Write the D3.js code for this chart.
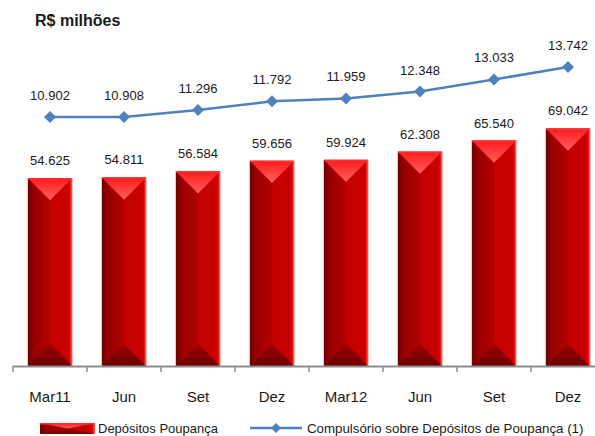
<!DOCTYPE html>
<html><head><meta charset="utf-8">
<script src="https://cdn.jsdelivr.net/npm/d3@7"></script>
<style>body{margin:0;background:#fff}svg{display:block;font-family:"Liberation Sans",Arial,sans-serif}</style>
</head><body><svg id="c" width="595" height="436"></svg>
<script>
const categories = ["Mar11","Jun","Set","Dez","Mar12","Jun","Set","Dez"];
const depositos = [54.625,54.811,56.584,59.656,59.924,62.308,65.540,69.042];
const compulsorio = [10.902,10.908,11.296,11.792,11.959,12.348,13.033,13.742];
const seriesNames = ["Depósitos Poupança","Compulsório sobre Depósitos de Poupança (1)"];
const fmt = v => v.toFixed(3);

const svg = d3.select("#c");
const x = d3.scaleBand().domain(d3.range(categories.length)).range([13, 605]).paddingInner(0.4).paddingOuter(0.2);
const yBar = d3.scaleLinear().domain([0, 70]).range([366, 125.2]);
const yLine = d3.scaleLinear().domain([10.902, 13.742]).range([117, 67]);

const defs = svg.append("defs");
const g1 = defs.append("linearGradient").attr("id","barG").attr("x1","0").attr("x2","1").attr("y1","0").attr("y2","0");
[[0,"#6e0000"],[0.15,"#9a0000"],[0.48,"#b00000"],[0.52,"#c40000"],[0.9,"#c80000"],[0.95,"#e00000"],[1,"#ff3a3a"]].forEach(s=>g1.append("stop").attr("offset",s[0]).attr("stop-color",s[1]));
const gTop = defs.append("linearGradient").attr("id","topG").attr("x1","0").attr("x2","0").attr("y1","0").attr("y2","1");
[[0,"#ff1a1a"],[1,"#ff6060"]].forEach(s=>gTop.append("stop").attr("offset",s[0]).attr("stop-color",s[1]));
const gBot = defs.append("linearGradient").attr("id","botG").attr("x1","0").attr("x2","0").attr("y1","0").attr("y2","1");
[[0,"#a00000"],[1,"#6a0000"]].forEach(s=>gBot.append("stop").attr("offset",s[0]).attr("stop-color",s[1]));

svg.append("text").attr("x",35).attr("y",26).attr("font-size",16).attr("font-weight","bold").attr("fill","#1a1a1a").text("R$ milhões");

function drawBar(sel, x0, y0, w, h){
  sel.append("rect").attr("x",x0).attr("y",y0).attr("width",w).attr("height",h).attr("fill","url(#barG)");
  const a = Math.min(w/2, h/2);
  sel.append("path").attr("d",`M${x0},${y0}L${x0+w},${y0}L${x0+w/2},${y0+a}Z`).attr("fill","url(#topG)");
  sel.append("path").attr("d",`M${x0},${y0+h}L${x0+w},${y0+h}L${x0+w/2},${y0+h-a}Z`).attr("fill","url(#botG)");
  sel.append("rect").attr("x",x0).attr("y",y0).attr("width",w).attr("height",1.5).attr("fill","#ff3030");
  sel.append("rect").attr("x",x0+w-1.5).attr("y",y0).attr("width",1.5).attr("height",h).attr("fill","#ff5050").attr("opacity",0.8);
}

depositos.forEach((v,i)=>{
  const g = svg.append("g");
  drawBar(g, x(i), yBar(v), x.bandwidth(), yBar(0)-yBar(v));
  svg.append("text").attr("x",x(i)+x.bandwidth()/2).attr("y",yBar(v)-13).attr("text-anchor","middle").attr("font-size",13).attr("fill","#1a1a1a").text(fmt(v));
});

// axis
const step = x.step();
svg.append("line").attr("x1",13).attr("x2",595).attr("y1",366.5).attr("y2",366.5).attr("stroke","#8c8c8c").attr("stroke-width",2);
categories.forEach((c,i)=>{
  const tx = x(i)+x.bandwidth()/2 - step/2;
  svg.append("line").attr("x1",tx).attr("x2",tx).attr("y1",366).attr("y2",372).attr("stroke","#8c8c8c").attr("stroke-width",1.5);
  svg.append("text").attr("x",x(i)+x.bandwidth()/2).attr("y",402).attr("text-anchor","middle").attr("font-size",15).attr("fill","#1a1a1a").text(c);
});

// line
const line = d3.line().x((d,i)=>x(i)+x.bandwidth()/2).y(d=>yLine(d));
svg.append("path").datum(compulsorio).attr("d",line).attr("fill","none").attr("stroke","#4f81bd").attr("stroke-width",2.5);
const diamond = d3.symbol().type(d3.symbolSquare).size(72);
compulsorio.forEach((v,i)=>{
  const cx = x(i)+x.bandwidth()/2;
  svg.append("path").attr("d",diamond()).attr("transform",`translate(${cx},${yLine(v)}) rotate(45)`).attr("fill","#4f81bd");
  svg.append("text").attr("x",cx).attr("y",yLine(v)-17).attr("text-anchor","middle").attr("font-size",13).attr("fill","#1a1a1a").text(fmt(v));
});

// legend
const lg = svg.append("g");
drawBar(lg.append("g"), 40, 423, 55, 11);
lg.append("text").attr("x",98).attr("y",433).attr("font-size",13).attr("fill","#1a1a1a").text(seriesNames[0]);
lg.append("line").attr("x1",250).attr("x2",302).attr("y1",428).attr("y2",428).attr("stroke","#4f81bd").attr("stroke-width",2.5);
lg.append("path").attr("d",d3.symbol().type(d3.symbolSquare).size(50)()).attr("transform","translate(276,428) rotate(45)").attr("fill","#4f81bd");
lg.append("text").attr("x",307).attr("y",433).attr("font-size",13.3).attr("fill","#1a1a1a").text(seriesNames[1]);
</script></body></html>
